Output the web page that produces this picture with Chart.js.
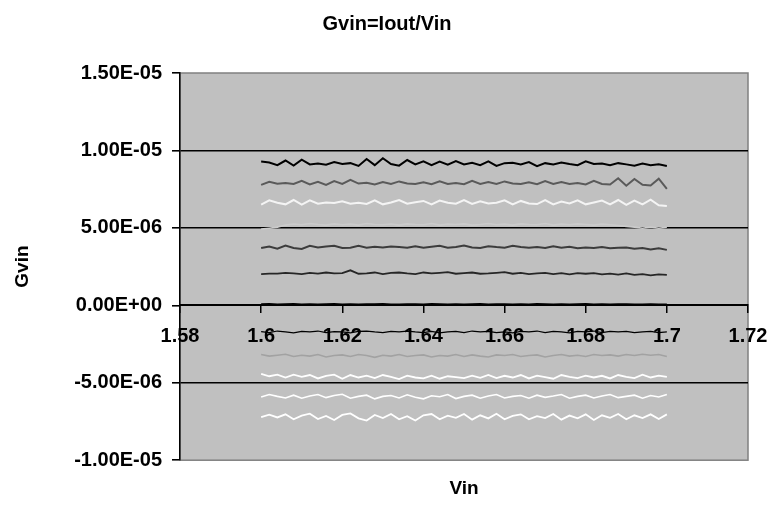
<!DOCTYPE html>
<html>
<head>
<meta charset="utf-8">
<script src="https://cdn.jsdelivr.net/npm/chart.js@4/dist/chart.umd.min.js"></script>
<style>
  html, body { margin: 0; padding: 0; background: #fff; }
  #wrap { width: 770px; height: 511px; }
</style>
</head>
<body>
<div id="wrap"><canvas id="myChart" width="770" height="511"></canvas></div>
<script>
// values are read in units of 1e-6
const UNIT = 1e-6;

const vin = [1.600,1.602,1.604,1.606,1.608,1.610,1.612,1.614,1.616,1.618,1.620,1.622,1.624,1.626,1.628,1.630,1.632,1.634,1.636,1.638,1.640,1.642,1.644,1.646,1.648,1.650,1.652,1.654,1.656,1.658,1.660,1.662,1.664,1.666,1.668,1.670,1.672,1.674,1.676,1.678,1.680,1.682,1.684,1.686,1.688,1.690,1.692,1.694,1.696,1.698,1.700];

const s1 = [9.28,9.22,9.05,9.35,9.02,9.40,9.10,9.15,9.08,9.25,9.12,9.18,9.00,9.45,9.05,9.50,9.12,9.02,9.38,9.10,9.30,9.05,9.28,9.08,9.32,9.10,9.20,9.05,9.30,9.00,9.18,9.20,9.10,9.25,8.98,9.18,9.10,9.22,9.12,9.05,9.30,9.12,9.15,9.05,9.18,9.10,9.02,9.15,9.05,9.10,9.00];
const s2 = [7.78,7.98,7.85,7.90,7.84,8.04,7.80,7.98,7.78,8.02,7.84,8.10,7.86,7.92,7.80,7.96,7.84,8.00,7.86,7.84,7.94,7.82,8.00,7.84,7.90,7.82,8.04,7.84,7.96,7.84,8.00,7.86,7.84,7.94,7.82,8.02,7.84,7.96,7.84,7.90,7.80,8.04,7.84,7.80,8.20,7.72,8.16,7.78,7.74,8.18,7.52];
const s3 = [6.50,6.78,6.62,6.52,6.80,6.50,6.78,6.56,6.64,6.60,6.72,6.56,6.62,6.54,6.78,6.52,6.64,6.80,6.56,6.66,6.74,6.52,6.76,6.62,6.56,6.80,6.55,6.72,6.58,6.62,6.78,6.52,6.74,6.58,6.54,6.80,6.52,6.70,6.58,6.78,6.52,6.64,6.76,6.52,6.80,6.48,6.76,6.52,6.82,6.46,6.42];
const s4 = [4.92,4.98,5.05,5.18,5.25,5.20,5.28,5.22,5.18,5.26,5.20,5.24,5.18,5.28,5.22,5.20,5.25,5.18,5.26,5.22,5.20,5.28,5.18,5.24,5.22,5.26,5.18,5.22,5.28,5.20,5.24,5.18,5.26,5.22,5.20,5.28,5.18,5.24,5.20,5.26,5.22,5.18,5.24,5.20,5.15,5.10,5.05,4.98,5.06,4.98,5.04];
const s5 = [3.70,3.80,3.66,3.86,3.70,3.64,3.84,3.74,3.80,3.84,3.70,3.72,3.84,3.72,3.78,3.74,3.80,3.76,3.72,3.82,3.72,3.78,3.84,3.72,3.76,3.86,3.74,3.70,3.82,3.76,3.72,3.84,3.76,3.72,3.76,3.70,3.82,3.72,3.78,3.68,3.74,3.70,3.76,3.68,3.72,3.74,3.66,3.70,3.60,3.68,3.58];
const s6 = [2.02,2.04,2.04,2.10,2.06,2.02,2.10,2.05,2.12,2.06,2.08,2.26,2.04,2.06,2.12,2.02,2.10,2.12,2.06,2.02,2.12,2.06,2.10,2.14,2.04,2.08,2.12,2.04,2.06,2.10,2.14,2.04,2.10,2.02,2.06,2.10,2.02,2.08,2.00,2.08,2.04,2.08,2.00,2.04,1.98,2.06,1.96,2.02,1.94,2.00,1.96];
const s7 = [0.08,0.10,0.06,0.08,0.10,0.07,0.09,0.06,0.08,0.10,0.07,0.08,0.06,0.09,0.08,0.10,0.07,0.06,0.09,0.08,0.07,0.10,0.08,0.06,0.09,0.07,0.08,0.10,0.06,0.08,0.09,0.07,0.08,0.06,0.10,0.08,0.07,0.09,0.06,0.08,0.10,0.07,0.08,0.06,0.09,0.08,0.07,0.06,0.08,0.07,0.06];
const s8 = [-1.70,-1.76,-1.66,-1.72,-1.78,-1.68,-1.72,-1.66,-1.76,-1.70,-1.72,-1.78,-1.68,-1.66,-1.72,-1.76,-1.68,-1.72,-1.66,-1.72,-1.76,-1.68,-1.78,-1.72,-1.68,-1.76,-1.66,-1.72,-1.68,-1.76,-1.72,-1.78,-1.68,-1.72,-1.66,-1.76,-1.68,-1.72,-1.78,-1.68,-1.72,-1.66,-1.76,-1.68,-1.72,-1.68,-1.76,-1.72,-1.68,-1.76,-1.72];
const s9 = [-3.18,-3.28,-3.22,-3.16,-3.30,-3.22,-3.28,-3.18,-3.34,-3.24,-3.20,-3.30,-3.18,-3.24,-3.36,-3.22,-3.28,-3.18,-3.30,-3.24,-3.20,-3.34,-3.24,-3.28,-3.18,-3.30,-3.20,-3.28,-3.34,-3.20,-3.24,-3.18,-3.30,-3.24,-3.20,-3.34,-3.24,-3.18,-3.28,-3.22,-3.30,-3.18,-3.24,-3.20,-3.28,-3.18,-3.24,-3.16,-3.22,-3.18,-3.30];
const s10 = [-4.42,-4.58,-4.48,-4.66,-4.48,-4.62,-4.50,-4.72,-4.55,-4.48,-4.74,-4.50,-4.66,-4.54,-4.70,-4.50,-4.62,-4.76,-4.54,-4.66,-4.72,-4.54,-4.74,-4.58,-4.64,-4.70,-4.54,-4.68,-4.50,-4.70,-4.55,-4.66,-4.50,-4.72,-4.54,-4.64,-4.74,-4.50,-4.62,-4.70,-4.54,-4.66,-4.55,-4.72,-4.50,-4.62,-4.70,-4.48,-4.66,-4.54,-4.62];
const s11 = [-5.92,-5.76,-5.88,-5.98,-5.80,-6.00,-5.86,-5.76,-5.96,-5.82,-5.74,-6.00,-5.88,-5.80,-6.04,-5.88,-5.82,-5.98,-5.78,-5.94,-6.04,-5.84,-5.90,-5.76,-6.02,-5.88,-5.80,-6.00,-5.86,-5.76,-5.98,-5.88,-5.82,-6.00,-5.80,-5.94,-5.86,-5.76,-6.00,-5.88,-5.80,-5.98,-5.86,-5.76,-5.96,-5.88,-5.80,-6.00,-5.82,-5.92,-5.76];
const s12 = [-7.22,-7.06,-7.24,-7.04,-7.36,-7.12,-7.00,-7.34,-7.14,-7.40,-7.08,-6.98,-7.30,-7.44,-7.08,-7.28,-7.02,-7.36,-7.16,-7.44,-7.10,-7.02,-7.36,-7.12,-7.26,-7.02,-7.38,-7.10,-7.30,-7.00,-7.36,-7.14,-7.04,-7.36,-7.16,-7.28,-7.02,-7.38,-7.12,-7.30,-7.04,-7.40,-7.10,-7.26,-7.02,-7.36,-7.10,-7.28,-7.04,-7.34,-7.04];

const seriesList = [s1, s2, s3, s4, s5, s6, s7, s8, s9, s10, s11, s12];
const seriesColors = ['#000000','#5a5a5a','#f4f4f4','#cbcbcb','#3c3c3c','#262626','#000000','#000000','#a2a2a2','#ffffff','#ffffff','#ffffff'];
const seriesWidths = [2, 2, 2, 1.6, 2, 1.8, 1.6, 1.2, 1.6, 1.8, 1.6, 1.8];

const FONT = "'Liberation Sans', Arial, sans-serif";

function sciLabel(v) {
  if (Math.abs(v) < 1e-12) return '0.00E+00';
  let s = v.toExponential(2).toUpperCase();
  let parts = s.split('E');
  let sign = parts[1][0];
  let num = parts[1].slice(1);
  if (num.length < 2) num = '0' + num;
  return parts[0] + 'E' + sign + num;
}

const plotBg = {
  id: 'plotBg',
  beforeDraw(chart) {
    const a = chart.chartArea;
    const c = chart.ctx;
    c.save();
    c.fillStyle = '#c0c0c0';
    c.fillRect(a.left, a.top, a.right - a.left, a.bottom - a.top);
    c.strokeStyle = '#808080';
    c.lineWidth = 1.5;
    c.strokeRect(a.left, a.top, a.right - a.left, a.bottom - a.top);
    c.restore();
  }
};

const datasets = seriesList.map(function(s, k) {
  return {
    data: vin.map(function(x, i) { return {x: x, y: s[i] * UNIT}; }),
    borderColor: seriesColors[k],
    borderWidth: seriesWidths[k],
    pointRadius: 0,
    tension: 0,
    fill: false
  };
});

var ctx = document.getElementById('myChart');
var chart = new Chart(ctx, {
  type: 'line',
  data: { datasets: datasets },
  plugins: [plotBg],
  options: {
    responsive: false,
    animation: false,
    layout: { padding: { left: 26, right: 22, top: 0, bottom: 0 } },
    plugins: {
      legend: { display: false },
      tooltip: { enabled: false },
      title: {
        display: true,
        text: 'Gvin=Iout/Vin',
        color: '#000',
        font: { family: FONT, size: 20, weight: 'bold' },
        padding: { top: 12, bottom: 37 }
      },
      subtitle: {
        display: true,
        text: 'Vin',
        position: 'bottom',
        fullSize: false,
        color: '#000',
        font: { family: FONT, size: 19, weight: 'bold' },
        padding: { top: 17, bottom: 11 }
      }
    },
    scales: {
      x: {
        type: 'linear',
        position: { y: 0 },
        min: 1.58,
        max: 1.72,
        z: 1,
        afterFit: function(scale) { scale.paddingLeft = 0; scale.paddingRight = 0; },
        border: { display: true, color: '#000', width: 2 },
        grid: { drawOnChartArea: false, drawTicks: true, tickLength: 7, color: '#000', lineWidth: 1.5 },
        ticks: {
          stepSize: 0.02,
          color: '#000',
          padding: 12,
          maxRotation: 0,
          font: { family: FONT, size: 20, weight: 'bold' },
          showLabelBackdrop: true,
          backdropPadding: 1,
          backdropColor: function(c) {
            const v = c.tick ? c.tick.value : 0;
            if (v < 1.59 || v > 1.71) return 'rgba(0,0,0,0)';
            return '#c0c0c0';
          },
          callback: function(v) { return String(parseFloat(v.toFixed(2))); }
        }
      },
      y: {
        type: 'linear',
        min: -1e-5,
        max: 1.5e-5,
        afterFit: function(scale) { scale.width = 154; },
        border: { display: true, color: '#000', width: 1.5 },
        grid: {
          drawTicks: true,
          tickLength: 8,
          tickColor: '#000',
          lineWidth: 1.6,
          color: function(c) {
            if (!c.tick) return '#000';
            const v = c.tick.value;
            if (Math.abs(v - 1.5e-5) < 1e-9 || Math.abs(v + 1e-5) < 1e-9 || Math.abs(v) < 1e-9) return 'rgba(0,0,0,0)';
            return '#000';
          }
        },
        title: {
          display: true,
          text: 'Gvin',
          color: '#000',
          font: { family: FONT, size: 19, weight: 'bold' },
          padding: { top: -15, bottom: 0 }
        },
        ticks: {
          stepSize: 5e-6,
          color: '#000',
          padding: 10,
          font: { family: FONT, size: 20, weight: 'bold' },
          callback: function(v) { return sciLabel(v); }
        }
      }
    }
  }
});
</script>
</body>
</html>
